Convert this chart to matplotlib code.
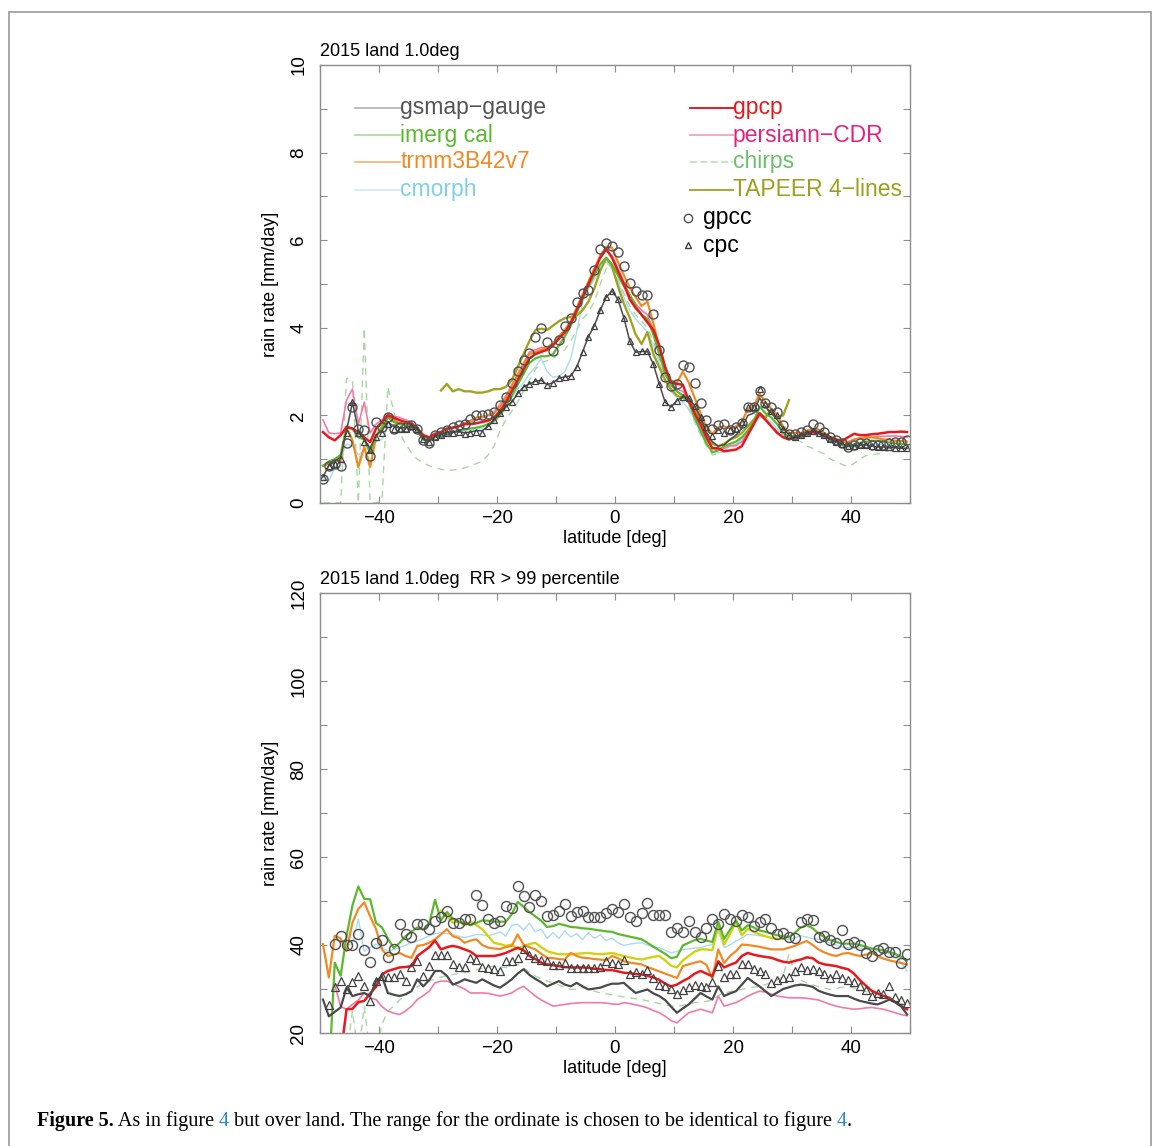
import numpy as np
import matplotlib
matplotlib.use("Agg")
import matplotlib.pyplot as plt
from matplotlib.patches import Rectangle

nan = np.nan
plt.rcParams['font.family'] = ['Liberation Sans', 'DejaVu Sans']

# latitude bin centres (deg)
lat = np.arange(-49.5, 50, 1.0)

# ---------------- top panel: mean rain rate [mm/day] ----------------
gpcc_top = [0.54, 0.84, 0.90, 0.84, 1.37, 2.20, 1.70, 1.66, 1.07, 1.85,
            1.73, 1.96, 1.70, 1.73, 1.73, 1.77, 1.70, 1.43, 1.37, 1.55,
            1.62, 1.66, 1.73, 1.77, 1.81, 1.92, 2.00, 2.00, 2.04, 2.08,
            2.23, 2.42, 2.73, 3.02, 3.27, 3.42, 3.78, 4.00, 3.67, 3.48,
            3.72, 4.05, 4.23, 4.60, 4.80, 4.86, 5.33, 5.79, 5.94, 5.86,
            5.73, 5.41, 5.03, 4.84, 4.75, 4.75, 4.31, 3.50, 2.87, 2.66,
            2.72, 3.14, 3.11, 2.73, 2.28, 1.89, 1.70, 1.77, 1.80, 1.66,
            1.73, 1.82, 2.20, 2.20, 2.55, 2.28, 2.19, 2.08, 1.77, 1.58,
            1.58, 1.62, 1.66, 1.81, 1.73, 1.62, 1.51, 1.43, 1.36, 1.28,
            1.32, 1.37, 1.36, 1.32, 1.32, 1.32, 1.36, 1.39, 1.39, 1.43]
cpc_top = [0.60, 0.85, 0.90, 1.00, 1.60, 2.30, 1.60, 1.40, 1.20, 1.50,
           1.60, 1.80, 1.70, 1.70, 1.70, 1.75, 1.70, 1.45, 1.40, 1.50,
           1.55, 1.60, 1.60, 1.62, 1.58, 1.60, 1.62, 1.60, 1.75, 1.90,
           2.05, 2.20, 2.30, 2.50, 2.65, 2.72, 2.78, 2.80, 2.70, 2.75,
           2.85, 2.88, 2.90, 3.10, 3.45, 3.80, 4.05, 4.40, 4.70, 4.84,
           4.65, 4.23, 3.70, 3.44, 3.46, 3.46, 3.17, 2.72, 2.30, 2.19,
           2.34, 2.43, 2.40, 2.22, 1.96, 1.73, 1.53, 1.66, 1.60, 1.66,
           1.70, 1.85, 2.19, 2.19, 2.60, 2.25, 2.10, 2.00, 1.70, 1.55,
           1.50, 1.55, 1.60, 1.65, 1.60, 1.55, 1.45, 1.40, 1.35, 1.30,
           1.30, 1.32, 1.33, 1.30, 1.28, 1.28, 1.27, 1.26, 1.25, 1.25]
gsmap_top = [0.60, 0.85, 0.95, 1.05, 1.65, 2.30, 1.65, 1.45, 1.25, 1.55,
             1.65, 1.85, 1.75, 1.72, 1.72, 1.75, 1.70, 1.45, 1.42, 1.52,
             1.57, 1.62, 1.62, 1.63, 1.60, 1.62, 1.65, 1.65, 1.75, 1.90,
             2.05, 2.20, 2.30, 2.50, 2.65, 2.72, 2.78, 2.80, 2.70, 2.75,
             2.85, 2.88, 2.90, 3.10, 3.45, 3.80, 4.05, 4.40, 4.70, 4.84,
             4.65, 4.23, 3.70, 3.44, 3.46, 3.46, 3.17, 2.72, 2.30, 2.19,
             2.34, 2.43, 2.40, 2.22, 1.96, 1.60, 1.40, 1.30, 1.33, 1.45,
             1.55, 1.70, 2.00, 2.05, 2.40, 2.20, 2.05, 1.90, 1.70, 1.55,
             1.50, 1.55, 1.60, 1.65, 1.60, 1.55, 1.45, 1.40, 1.35, 1.30,
             1.30, 1.32, 1.33, 1.30, 1.28, 1.28, 1.27, 1.26, 1.25, 1.25]
gpcp_top = [1.62, 1.50, 1.43, 1.55, 1.73, 1.70, 1.62, 1.50, 1.39, 1.70,
            1.85, 2.00, 1.95, 1.89, 1.85, 1.81, 1.70, 1.55, 1.50, 1.58,
            1.62, 1.70, 1.72, 1.75, 1.80, 1.80, 1.82, 1.85, 1.88, 1.95,
            2.10, 2.30, 2.55, 2.80, 3.05, 3.30, 3.40, 3.45, 3.50, 3.60,
            3.75, 3.90, 4.10, 4.40, 4.70, 5.00, 5.30, 5.60, 5.80, 5.60,
            5.30, 5.00, 4.65, 4.45, 4.30, 4.12, 3.95, 3.60, 3.10, 2.75,
            2.72, 2.70, 2.34, 2.05, 1.80, 1.50, 1.25, 1.25, 1.18, 1.20,
            1.22, 1.30, 1.55, 1.80, 2.05, 1.90, 1.75, 1.60, 1.50, 1.45,
            1.50, 1.55, 1.60, 1.62, 1.60, 1.55, 1.50, 1.45, 1.42, 1.50,
            1.58, 1.55, 1.55, 1.57, 1.58, 1.60, 1.62, 1.62, 1.63, 1.62]
trmm_top = [0.85, 0.90, 0.95, 0.98, 1.73, 1.43, 0.82, 1.28, 0.82, 1.50,
            1.75, 2.00, 1.90, 1.82, 1.80, 1.78, 1.70, 1.50, 1.45, 1.55,
            1.62, 1.68, 1.72, 1.75, 1.82, 1.88, 1.95, 1.97, 2.00, 2.05,
            2.20, 2.40, 2.65, 2.90, 3.15, 3.40, 3.45, 3.50, 3.55, 3.65,
            3.80, 3.95, 4.15, 4.45, 4.75, 5.05, 5.35, 5.65, 5.85, 5.83,
            5.50, 5.20, 4.92, 4.70, 4.50, 4.60, 4.10, 3.55, 3.10, 2.80,
            2.75, 3.00, 2.75, 2.40, 2.05, 1.73, 1.58, 1.73, 1.75, 1.70,
            1.75, 1.85, 2.15, 2.20, 2.50, 2.30, 2.15, 2.00, 1.75, 1.60,
            1.60, 1.60, 1.65, 1.70, 1.68, 1.60, 1.50, 1.45, 1.40, 1.38,
            1.45, 1.48, 1.50, 1.50, 1.48, 1.45, 1.45, 1.42, 1.42, 1.40]
imerg_top = [0.85, 0.95, 1.00, 1.10, 1.75, 1.70, 1.50, 1.45, 1.15, 1.55,
             1.70, 1.95, 1.85, 1.80, 1.78, 1.75, 1.65, 1.45, 1.42, 1.50,
             1.55, 1.60, 1.62, 1.65, 1.68, 1.70, 1.72, 1.75, 1.80, 1.88,
             2.00, 2.20, 2.45, 2.70, 2.95, 3.20, 3.30, 3.35, 3.35, 3.40,
             3.60, 3.80, 4.05, 4.35, 4.65, 4.95, 5.20, 5.45, 5.60, 5.45,
             5.20, 4.95, 4.75, 4.50, 4.30, 4.20, 3.85, 3.40, 2.95, 2.70,
             2.55, 2.45, 2.30, 1.95, 1.65, 1.36, 1.16, 1.20, 1.30, 1.35,
             1.40, 1.50, 1.65, 1.85, 2.20, 2.05, 1.95, 1.80, 1.60, 1.50,
             1.50, 1.55, 1.60, 1.65, 1.62, 1.55, 1.45, 1.40, 1.33, 1.30,
             1.33, 1.37, 1.40, 1.42, 1.42, 1.40, 1.38, 1.36, 1.35, 1.33]
cmorph_top = [0.55, 0.50, 0.80, 1.00, 1.35, 1.30, 1.10, 1.20, 1.30, 1.40,
              1.45, 1.75, 1.75, 1.70, 1.72, 1.72, 1.62, 1.45, 1.42, 1.50,
              1.55, 1.58, 1.60, 1.62, 1.65, 1.65, 1.68, 1.70, 1.75, 1.85,
              2.00, 2.20, 2.40, 2.60, 2.75, 2.95, 3.10, 3.30, 3.00, 2.87,
              2.90, 3.00, 3.30, 3.90, 4.60, 4.90, 5.10, 5.35, 5.50, 5.35,
              5.05, 4.70, 4.40, 4.20, 4.05, 3.90, 3.60, 3.20, 2.80, 2.55,
              2.40, 2.30, 2.15, 1.90, 1.60, 1.35, 1.15, 1.15, 1.20, 1.30,
              1.35, 1.45, 1.60, 1.80, 2.05, 1.95, 1.85, 1.70, 1.55, 1.45,
              1.45, 1.50, 1.55, 1.58, 1.55, 1.50, 1.42, 1.35, 1.30, 1.25,
              1.27, 1.30, 1.33, 1.35, 1.35, 1.33, 1.30, 1.28, 1.25, 1.22]
persiann_top = [1.90, 1.60, 1.58, 1.60, 2.35, 2.60, 1.80, 2.30, 1.60, 1.80,
                1.90, 2.05, 1.98, 1.95, 1.90, 1.85, 1.72, 1.55, 1.50, 1.58,
                1.62, 1.68, 1.72, 1.75, 1.80, 1.85, 1.90, 1.95, 2.00, 2.08,
                2.25, 2.45, 2.70, 2.95, 3.20, 3.45, 3.50, 3.55, 3.55, 3.62,
                3.80, 3.95, 4.15, 4.45, 4.75, 5.05, 5.35, 5.60, 5.75, 5.65,
                5.35, 5.05, 4.75, 4.55, 4.40, 4.30, 3.95, 3.50, 3.05, 2.75,
                2.60, 2.55, 2.35, 2.00, 1.70, 1.45, 1.25, 1.22, 1.25, 1.30,
                1.32, 1.40, 1.60, 1.78, 2.00, 1.90, 1.75, 1.60, 1.50, 1.45,
                1.48, 1.52, 1.58, 1.60, 1.58, 1.52, 1.45, 1.40, 1.38, 1.40,
                1.45, 1.48, 1.50, 1.50, 1.52, 1.52, 1.53, 1.53, 1.52, 1.50]
chirps_top = [0.00, 0.00, 0.00, 0.00, 2.85, 2.80, 0.00, 4.00, 0.00, 0.00,
              0.05, 2.65, 2.10, 1.60, 1.35, 1.15, 1.00, 0.92, 0.85, 0.80,
              0.77, 0.75, 0.75, 0.77, 0.80, 0.85, 0.90, 0.95, 1.10, 1.30,
              1.65, 1.90, 2.10, 2.30, 2.55, 2.80, 3.05, 3.20, 3.25, 3.30,
              3.40, 3.50, 3.70, 3.95, 4.20, 4.35, 4.60, 5.00, 5.35, 5.40,
              5.10, 4.80, 4.50, 4.30, 4.15, 4.00, 3.70, 3.30, 2.85, 2.55,
              2.40, 2.30, 2.15, 1.85, 1.55, 1.30, 1.10, 1.12, 1.18, 1.25,
              1.30, 1.40, 1.55, 1.75, 2.00, 1.90, 1.80, 1.65, 1.60, 1.50,
              1.45, 1.40, 1.30, 1.25, 1.18, 1.12, 1.00, 0.95, 0.88, 0.83,
              0.90, 1.00, 1.08, 1.10, 1.12, 1.15, 1.20, 1.22, 1.25, 1.32]
tapeer_top = [nan] * 20 + [
              2.57, 2.72, 2.55, 2.60, 2.55, 2.55, 2.52, 2.52, 2.55, 2.60,
              2.60, 2.65, 2.80, 3.10, 3.40, 3.70, 3.95, 3.98, 3.95, 4.05,
              4.15, 4.22, 4.25, 4.28, 4.40, 4.60, 4.90, 5.30, 5.60, 5.40,
              4.95, 4.55, 4.23, 3.85, 3.63, 3.90, 3.40, 3.10, 2.80, 2.60,
              2.45, 2.40, 2.35, 2.15, 1.90, 1.60, 1.35, 1.30, 1.35, 1.45,
              1.50, 1.60, 1.75, 1.90, 2.05, 1.95, 2.15, 1.95, 2.00, 2.35] + [nan] * 20

# ---------------- bottom panel: RR > 99 percentile [mm/day] ----------------
gpcc_bot = [nan, nan, 40.3, 42.0, 40.0, 40.0, 42.6, 38.9, 36.1, 40.5,
            41.2, 37.2, 39.0, 44.7, 42.4, 41.9, 44.7, 44.7, 43.6, 45.5,
            46.3, 47.8, 45.1, 45.1, 46.0, 46.0, 51.4, 49.1, 46.0, 44.9,
            45.5, 48.9, 48.4, 53.5, 51.2, 48.6, 51.4, 50.1, 46.7, 46.9,
            47.7, 49.3, 46.7, 47.6, 47.7, 46.3, 46.3, 46.3, 47.3, 48.2,
            47.6, 49.3, 46.3, 45.5, 47.3, 49.6, 46.9, 46.9, 46.8, 43.0,
            43.9, 42.9, 45.4, 42.9, 41.9, 43.9, 45.9, 44.7, 47.0, 46.0,
            45.4, 46.8, 46.3, 44.4, 45.3, 45.9, 43.8, 42.5, 42.7, 41.8,
            41.6, 45.3, 46.0, 45.7, 41.9, 42.0, 41.2, 40.5, 43.4, 40.3,
            40.7, 40.0, 38.1, 37.5, 38.9, 39.3, 38.3, 38.3, 36.0, 37.9]
cpc_bot = [nan, 26.4, 30.5, 31.8, 30.0, 31.5, 33.0, 30.6, 27.2, 31.8,
           33.0, 32.7, 32.7, 33.3, 31.9, 35.0, 36.3, 33.0, 35.3, 37.8,
           37.8, 37.8, 35.7, 35.0, 35.0, 37.1, 36.5, 35.0, 34.7, 34.5,
           34.0, 36.3, 36.3, 37.1, 39.1, 37.8, 37.1, 36.7, 36.3, 35.4,
           35.4, 35.8, 34.7, 34.7, 34.7, 34.7, 34.7, 35.0, 36.3, 35.9,
           35.6, 36.7, 33.3, 33.9, 33.3, 34.4, 32.5, 31.0, 30.6, 30.0,
           28.9, 29.8, 30.4, 31.0, 30.7, 30.4, 31.5, 35.3, 32.7, 33.3,
           33.3, 35.6, 35.6, 34.6, 34.0, 33.3, 31.4, 32.0, 32.5, 32.7,
           34.0, 35.0, 34.4, 34.6, 34.0, 33.5, 32.5, 33.3, 32.5, 32.0,
           31.5, 30.6, 29.7, 28.3, 29.1, 28.9, 30.7, 28.1, 27.5, 26.8]
imerg_bot = [nan, 10.0, 36.0, 33.0, 42.0, 49.0, 53.3, 50.5, 50.4, 45.0,
             44.0, 41.5, 39.3, 40.5, 42.0, 43.0, 44.0, 43.5, 44.8, 50.3,
             45.6, 47.5, 46.0, 45.3, 45.0, 44.5, 45.0, 45.6, 45.5, 45.3,
             45.3, 45.3, 47.0, 49.8, 48.7, 47.5, 46.5, 45.5, 44.1, 44.3,
             44.8, 44.5, 44.1, 44.0, 43.8, 43.7, 43.5, 43.3, 43.1, 43.0,
             42.5, 42.2, 41.9, 41.6, 41.3, 40.5, 39.6, 38.8, 38.0, 37.0,
             37.3, 39.9, 40.5, 41.1, 41.4, 41.0, 40.7, 45.3, 41.4, 43.5,
             45.6, 43.3, 44.5, 44.0, 43.3, 43.0, 42.6, 42.2, 42.0, 41.8,
             42.8, 44.0, 44.5, 43.8, 42.6, 41.8, 41.1, 40.7, 40.3, 40.3,
             40.3, 40.0, 39.6, 39.2, 39.0, 38.8, 38.4, 38.0, 37.3, 36.5]
trmm_bot = [40.2, 32.6, 42.1, 41.5, 38.6, 45.1, 48.2, 49.7, 46.5, 43.6,
            39.0, 37.5, 37.8, 38.2, 37.5, 37.1, 39.8, 40.0, 40.5, 41.3,
            42.4, 43.6, 42.0, 41.6, 40.5, 41.0, 41.3, 40.0, 39.4, 39.2,
            39.1, 39.5, 39.8, 42.4, 40.1, 39.5, 39.0, 38.0, 37.1, 37.0,
            36.8, 36.7, 38.2, 37.5, 37.1, 37.0, 36.8, 36.7, 36.5, 37.5,
            37.0, 36.3, 36.0, 35.8, 35.6, 35.0, 34.5, 34.0, 33.5, 33.0,
            32.5, 35.2, 35.6, 36.0, 36.3, 35.5, 32.5, 39.0, 35.9, 37.5,
            38.6, 40.1, 40.0, 39.8, 39.6, 39.3, 39.0, 39.0, 39.0, 39.4,
            39.8, 40.4, 40.9, 40.0, 39.0, 38.3, 37.8, 37.5, 38.0, 38.2,
            37.8, 37.5, 37.8, 38.2, 37.5, 36.9, 36.5, 36.2, 35.9, 35.6]
gpcp_bot = [nan, nan, nan, 15.0, 25.4, 25.5, 27.0, 27.3, 29.0, 30.5,
            33.3, 34.1, 34.5, 34.9, 35.0, 35.2, 37.5, 38.5, 39.5, 41.0,
            39.0, 39.5, 39.8, 39.5, 39.0, 38.5, 37.5, 37.5, 37.5, 37.5,
            37.8, 38.2, 38.8, 39.4, 38.8, 37.5, 36.8, 36.0, 35.6, 35.4,
            35.2, 35.0, 34.9, 34.9, 34.9, 34.8, 34.6, 34.5, 34.3, 34.3,
            34.0, 33.7, 33.6, 33.4, 33.3, 33.0, 32.6, 32.1, 31.2, 30.6,
            31.0, 31.8, 32.5, 33.5, 34.1, 33.5, 32.9, 36.3, 34.9, 35.5,
            36.0, 37.5, 38.2, 37.8, 37.5, 37.3, 37.1, 36.6, 36.2, 36.0,
            36.4, 36.7, 37.2, 37.0, 36.0, 35.6, 35.4, 35.2, 34.8, 34.5,
            33.5, 32.0, 30.8, 29.6, 29.0, 28.4, 28.0, 27.0, 26.1, 25.4]
gsmap_bot = [27.6, 23.8, 24.8, 25.8, 30.3, 28.4, 28.8, 29.1, 28.4, 31.8,
             32.9, 29.1, 28.7, 28.4, 28.8, 29.5, 32.2, 30.6, 32.0, 34.1,
             34.1, 33.0, 31.0, 31.5, 32.2, 31.8, 31.4, 32.2, 31.5, 30.8,
             30.3, 31.2, 32.2, 33.5, 34.5, 33.2, 32.3, 31.5, 30.6, 31.2,
             31.8, 31.0, 30.6, 31.4, 30.6, 29.9, 30.1, 30.3, 30.8, 31.2,
             31.2, 31.4, 30.2, 29.1, 29.5, 29.9, 29.0, 28.4, 27.5, 26.0,
             24.6, 25.6, 26.5, 27.8, 29.1, 28.3, 27.6, 30.6, 28.4, 29.0,
             29.5, 31.0, 32.5, 31.5, 30.6, 29.5, 28.4, 29.2, 30.0, 30.4,
             30.8, 31.0, 30.8, 30.5, 29.6, 29.1, 28.7, 28.4, 28.4, 28.4,
             27.8, 27.3, 27.0, 26.7, 26.5, 27.0, 27.6, 27.0, 26.1, 24.2]
persiann_bot = [nan, nan, 31.0, 26.0, 25.4, 26.5, 27.5, 29.1, 28.0, 27.6,
                26.0, 25.0, 24.5, 24.2, 25.0, 26.1, 27.6, 28.5, 29.5, 31.4,
                31.8, 31.8, 31.3, 30.6, 30.0, 29.1, 29.1, 29.1, 29.0, 28.7,
                28.4, 28.7, 29.1, 30.0, 30.6, 29.5, 28.4, 27.5, 26.8, 26.1,
                26.3, 26.5, 26.7, 26.8, 26.9, 26.9, 26.9, 26.9, 26.8, 26.6,
                26.5, 26.9, 26.7, 26.4, 26.1, 25.7, 25.1, 24.6, 23.8, 22.8,
                22.3, 23.5, 24.6, 25.0, 25.4, 25.0, 24.6, 28.4, 26.1, 26.5,
                26.9, 27.6, 28.4, 29.0, 29.5, 29.3, 28.8, 28.4, 28.2, 28.0,
                28.0, 28.0, 27.9, 27.7, 27.5, 27.0, 26.5, 26.1, 25.8, 25.6,
                25.4, 25.5, 25.7, 25.8, 25.6, 25.4, 25.0, 24.6, 24.2, 23.9]
cmorph_bot = [nan, nan, nan, nan, 40.0, 40.2, 45.9, 38.6, 39.5, 40.2,
              39.5, 38.6, 39.0, 39.4, 40.0, 40.5, 40.9, 41.5, 42.1, 42.6,
              42.8, 42.6, 42.4, 42.0, 41.7, 42.0, 42.4, 42.3, 42.1, 42.5,
              43.0, 42.0, 44.5, 44.7, 43.4, 45.0, 43.0, 43.6, 41.5, 42.8,
              41.5, 43.2, 41.8, 42.6, 41.2, 42.8, 41.5, 42.3, 41.0, 41.6,
              40.5, 39.9, 40.2, 40.4, 40.5, 40.0, 39.6, 39.4, 38.8, 38.2,
              38.5, 39.0, 39.1, 39.3, 39.4, 39.8, 40.1, 43.2, 39.4, 40.0,
              40.9, 41.6, 42.4, 42.3, 42.1, 42.0, 41.6, 41.3, 41.3, 41.3,
              41.7, 42.1, 41.8, 41.4, 41.3, 40.9, 40.5, 40.0, 39.5, 39.4,
              39.4, 39.3, 39.1, 39.0, 38.6, 38.2, 38.0, 37.9, 36.0, 34.1]
chirps_bot = [nan, nan, nan, nan, 15.0, 25.0, 15.0, 26.0, 15.0, 15.0,
              22.0, 25.0, 26.1, 27.5, 28.5, 29.5, 30.5, 31.2, 31.8, 32.3,
              32.7, 33.0, 33.3, 33.5, 33.7, 34.0, 34.4, 34.7, 35.0, 35.2,
              35.0, 34.9, 35.2, 35.6, 34.8, 33.8, 32.9, 32.3, 31.8, 31.4,
              30.9, 30.4, 29.9, 30.0, 30.3, 29.9, 29.5, 29.1, 28.9, 28.7,
              28.4, 28.2, 28.0, 27.8, 27.6, 27.3, 27.0, 26.7, 26.4, 26.1,
              26.1, 26.3, 26.6, 26.9, 27.0, 27.2, 27.5, 28.5, 29.1, 29.4,
              29.7, 29.9, 30.2, 30.4, 30.6, 31.0, 31.5, 32.1, 33.0, 38.0,
              33.0, 32.0, 31.4, 31.0, 30.5, 30.2, 29.9, 30.1, 30.4, 30.6,
              30.2, 29.8, 29.4, 29.1, 28.8, 28.4, 27.6, 27.0, 26.6, 26.1]
tapeer_bot = [nan] * 20 + [
              47.8, 46.7, 45.1, 45.3, 44.5, 45.3, 44.5, 43.6, 42.0, 40.5,
              40.2, 39.8, 40.1, 39.0, 39.8, 40.2, 40.5, 39.5, 38.6, 38.2,
              37.9, 37.9, 37.9, 38.0, 38.1, 38.2, 38.0, 37.9, 38.0, 38.2,
              37.8, 37.5, 37.2, 36.9, 36.7, 37.0, 37.3, 37.5, 36.5, 35.3,
              34.9, 36.5, 37.5, 38.5, 39.0, 39.0, 38.8, 44.5, 40.1, 42.5,
              45.3, 42.2, 43.7, 43.0, 42.4, 42.0, 41.6, 41.4, 41.4] + [nan] * 21

# colours
c_gsmap = '#4a4a4a'
c_imerg = '#5cb82e'
c_trmm = '#f08a24'
c_cmorph = '#a8dcf0'
c_gpcp = '#e8191d'
c_pers = '#f07aa8'
c_chirps = '#a8d8a0'
c_tapeer_top = '#a0a422'
c_tapeer_bot = '#d2d20e'
frame = '#8c8c8c'

W, H = 1153, 1146
fig = plt.figure(figsize=(W / 100, H / 100), dpi=100)
ax1 = fig.add_axes([320 / W, 1 - 503 / H, 590 / W, 438 / H])
ax2 = fig.add_axes([320 / W, 1 - 1033 / H, 590 / W, 440 / H])


def draw(ax, d, tap_col, top):
    ms_c, ms_t = (6.5, 4.8) if top else (7.2, 6.0)
    lw_g = 1.1 if top else 1.6
    ax.plot(lat, d['chirps'], '--', color=c_chirps, lw=1.0, dashes=(5, 4))
    ax.plot(lat, d['cmorph'], color=c_cmorph, lw=1.0)
    ax.plot(lat, d['pers'], color=c_pers, lw=1.2)
    ax.plot(lat, d['tapeer'], color=tap_col, lw=1.7)
    ax.plot(lat, d['trmm'], color=c_trmm, lw=1.6)
    ax.plot(lat, d['imerg'], color=c_imerg, lw=1.6)
    ax.plot(lat, d['gpcp'], color=c_gpcp, lw=1.8)
    ax.plot(lat, d['gsmap'], color=c_gsmap, lw=lw_g)
    ax.plot(lat, d['gpcc'], 'o', mfc='none', mec='#505050', mew=1.0, ms=ms_c)
    ax.plot(lat, d['cpc'], '^', mfc='none', mec='#404040', mew=0.9, ms=ms_t)


draw(ax1, dict(chirps=chirps_top, cmorph=cmorph_top, pers=persiann_top,
               tapeer=tapeer_top, trmm=trmm_top, imerg=imerg_top,
               gpcp=gpcp_top, gsmap=gsmap_top, gpcc=gpcc_top, cpc=cpc_top),
     c_tapeer_top, True)
draw(ax2, dict(chirps=chirps_bot, cmorph=cmorph_bot, pers=persiann_bot,
               tapeer=tapeer_bot, trmm=trmm_bot, imerg=imerg_bot,
               gpcp=gpcp_bot, gsmap=gsmap_bot, gpcc=gpcc_bot, cpc=cpc_bot),
     c_tapeer_bot, False)

for ax, (y0, y1, ystep, ylab_step), title in [
        (ax1, (0, 10, 1, 2), '2015 land 1.0deg'),
        (ax2, (20, 120, 10, 20), '2015 land 1.0deg  RR > 99 percentile')]:
    ax.set_xlim(-50, 50)
    ax.set_ylim(y0, y1)
    ax.set_xticks(np.arange(-50, 51, 10))
    ax.set_xticklabels([str(v).replace('-', '\u2212') if v % 20 == 0 and abs(v) < 50 else ''
                        for v in range(-50, 51, 10)])
    yt = np.arange(y0, y1 + 1, ystep)
    ax.set_yticks(yt)
    ax.set_yticklabels([str(v) if (v - y0) % ylab_step == 0 else '' for v in yt],
                       rotation=90, va='center')
    ax.tick_params(direction='in', length=5, width=0.8, color=frame,
                   top=True, right=True, labelsize=13.5, pad=5)
    ax.tick_params(axis='y', pad=9)
    for s in ax.spines.values():
        s.set_color(frame)
        s.set_linewidth(1.0)
    ax.set_xlabel('latitude [deg]', fontsize=13, labelpad=2)
    ax.set_ylabel('rain rate [mm/day]', fontsize=13, labelpad=8)
    ax.text(0.0, 1.012, title, transform=ax.transAxes, fontsize=13,
            ha='left', va='bottom')

# hand-made legend in the top panel
tr = ax1.transAxes
left_items = [('gsmap\u2212gauge', '#b0b0b0', '#555555', '-'),
              ('imerg cal', '#a8dc90', c_imerg, '-'),
              ('trmm3B42v7', '#f6b070', c_trmm, '-'),
              ('cmorph', '#cdeaf6', '#7fd0ea', '-')]
right_items = [('gpcp', c_gpcp, c_gpcp, '-'),
               ('persiann\u2212CDR', '#f5a8c8', '#e2247f', '-'),
               ('chirps', '#c5e6c0', '#6cc06c', '--'),
               ('TAPEER 4\u2212lines', '#a6aa2a', '#9ca01e', '-')]
ys = [0.902, 0.840, 0.779, 0.715]
for (lab, lc, tc, ls), y in zip(left_items, ys):
    ax1.plot([0.059, 0.136], [y, y], ls, color=lc, lw=1.2, transform=tr)
    ax1.text(0.136, y, lab, color=tc, fontsize=16.5, va='center', ha='left', transform=tr)
for (lab, lc, tc, ls), y in zip(right_items, ys):
    ax1.plot([0.627, 0.700], [y, y], ls, color=lc, lw=1.4, transform=tr)
    ax1.text(0.700, y, lab, color=tc, fontsize=16.5, va='center', ha='left', transform=tr)
ax1.plot([0.624], [0.651], 'o', mfc='none', mec='#505050', ms=6, transform=tr)
ax1.text(0.650, 0.651, 'gpcc', fontsize=16.5, va='center', ha='left', transform=tr)
ax1.plot([0.624], [0.589], '^', mfc='none', mec='#404040', ms=4.5, transform=tr)
ax1.text(0.650, 0.589, 'cpc', fontsize=16.5, va='center', ha='left', transform=tr)

# figure frame
fig.patches.append(Rectangle((9 / W, -0.01), 1142 / W, 1 - 12 / H + 0.01,
                             transform=fig.transFigure, fill=False,
                             edgecolor='#9a9a9a', lw=1.2))

# caption
serif = ['Liberation Serif', 'DejaVu Serif']
blue = '#2a8ad4'
t = fig.text(37 / W, 1 - 1131 / H, 'Figure 5.', family=serif, fontweight='bold',
             fontsize=14.5, va='bottom')
for s, col in [(' As in figure ', 'black'), ('4', blue),
               (' but over land. The range for the ordinate is chosen to be identical to figure ', 'black'),
               ('4', blue), ('.', 'black')]:
    t = ax2.annotate(s, xy=(1, 0), xycoords=t, va='bottom', ha='left',
                     family=serif, fontsize=14.5, color=col, annotation_clip=False)

fig.savefig('out.png', dpi=100)
